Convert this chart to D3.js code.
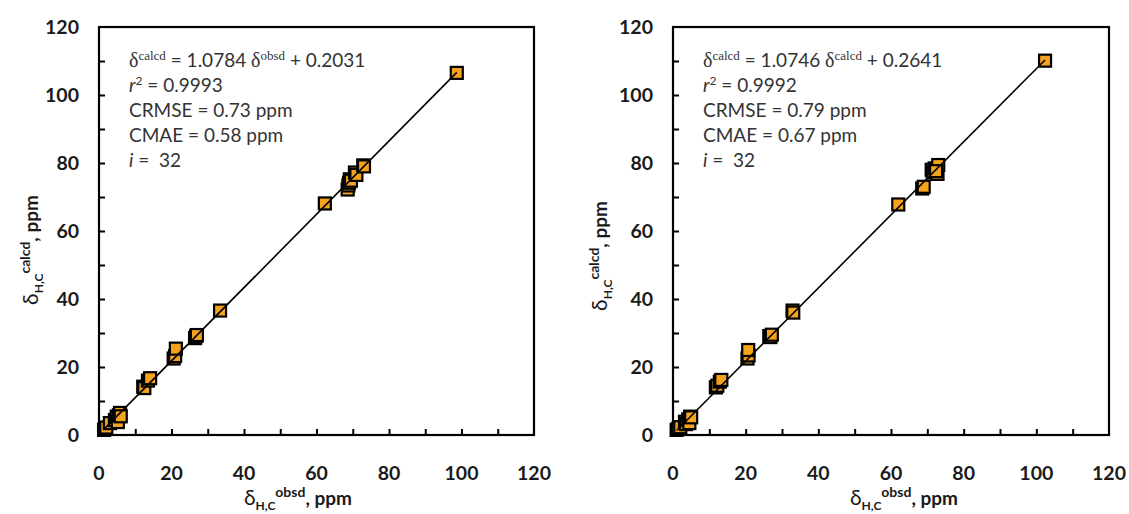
<!DOCTYPE html>
<html>
<head>
<meta charset="utf-8">
<script src="https://cdn.jsdelivr.net/npm/d3@7"></script>
<style>
  body { margin: 0; background: #fff; }
  svg { display: block; }
</style>
</head>
<body>
<div id="graf"></div>
<script>
// datos
leftObs  = [1.4, 1.6, 2.0, 3.0, 4.4, 4.9, 5.2, 5.5, 5.8, 6.0, 12.2, 12.5, 13.5, 14.1, 20.6, 21.0,
            21.2, 26.5, 26.8, 27.0, 33.4, 62.3, 68.6, 68.8, 69.0, 69.2, 69.5, 70.6, 71.0, 72.9, 73.1, 98.7]
leftCalc = [1.5, 1.8, 2.2, 3.5, 4.4, 5.4, 3.8, 5.8, 6.5, 5.5, 14.2, 13.8, 16.0, 16.7, 22.5, 23.2,
            25.4, 28.5, 29.1, 29.4, 36.6, 68.1, 72.2, 73.4, 74.2, 75.2, 74.8, 77.2, 76.5, 79.3, 79.0, 106.5]

rightObs  = [1.0, 1.4, 2.0, 3.3, 3.6, 4.2, 4.5, 4.7, 5.0, 11.8, 12.2, 12.9, 13.3, 20.5, 20.8, 20.7,
             26.5, 26.8, 27.2, 32.9, 33.1, 62.0, 68.6, 69.0, 71.2, 71.5, 72.0, 72.6, 72.8, 73.0, 72.4, 102.4]
rightCalc = [1.5, 1.8, 2.3, 3.9, 3.2, 4.6, 3.5, 5.4, 5.2, 14.0, 14.5, 15.7, 16.2, 22.5, 23.4, 25.0,
             29.1, 28.8, 29.5, 36.6, 36.0, 67.8, 72.5, 73.0, 78.0, 77.2, 78.4, 78.0, 76.8, 79.4, 77.6, 110.1]

leftFit  = [1.0784, 0.2031]   // pendiente, ordenada
rightFit = [1.0746, 0.2641]

axisDomain = [0, 120]
tickLabels = [0, 20, 40, 60, 80, 100, 120]
tickMarks  = [10, 20, 30, 40, 50, 60, 70, 80, 90, 100, 110]

leftStats  = ['0.9993', '0.73', '0.58', '32']
rightStats = ['0.9992', '0.79', '0.67', '32']

ancho_total = 1129
alto_total = 514
sans = 'Lato, "Open Sans", sans-serif'
serif = '"Liberation Serif", "DejaVu Serif", serif'
naranja = '#f5a21c'

svg = d3.select('#graf').append('svg')
        .attr('width', ancho_total)
        .attr('height', alto_total)

function panel(cfg) {
    x = d3.scaleLinear().domain(axisDomain).range([cfg.left, cfg.right])
    y = d3.scaleLinear().domain(axisDomain).range([cfg.bottom, cfg.top])
    g = svg.append('g')

    // marco
    g.append('rect')
        .attr('x', cfg.left).attr('y', cfg.top)
        .attr('width', cfg.right - cfg.left).attr('height', cfg.bottom - cfg.top)
        .attr('fill', 'none').attr('stroke', '#000').attr('stroke-width', 2.2)

    // ticks hacia dentro
    ejeX = d3.axisBottom(x).tickValues(tickMarks).tickSize(-6).tickFormat('')
    ejeY = d3.axisLeft(y).tickValues(tickMarks).tickSize(-6).tickFormat('')
    gx = g.append('g').attr('transform', `translate(0, ${cfg.bottom})`).call(ejeX)
    gy = g.append('g').attr('transform', `translate(${cfg.left}, 0)`).call(ejeY)
    ;[gx, gy].forEach(a => {
        a.select('.domain').remove()
        a.selectAll('line').attr('stroke', '#000').attr('stroke-width', 2)
    })

    // etiquetas
    g.selectAll('.xl').data(tickLabels).enter().append('text')
        .attr('x', d => x(d)).attr('y', cfg.bottom + 45)
        .attr('text-anchor', 'middle')
        .attr('font-family', sans).attr('font-weight', 'bold').attr('font-size', 19.5)
        .attr('fill', '#1a1a1a')
        .text(d => d)
    g.selectAll('.yl').data(tickLabels).enter().append('text')
        .attr('x', cfg.left - 20).attr('y', d => y(d) + 7)
        .attr('text-anchor', 'end')
        .attr('font-family', sans).attr('font-weight', 'bold').attr('font-size', 19.5)
        .attr('fill', '#1a1a1a')
        .text(d => d)

    // titulo eje x
    tx = g.append('text')
        .attr('x', cfg.xTitleX).attr('y', 505)
        .attr('text-anchor', 'middle')
        .attr('font-family', sans).attr('font-weight', 'bold').attr('font-size', 19)
        .attr('fill', '#1a1a1a')
    tx.append('tspan').attr('font-weight', 'normal').attr('font-size', 21).text('δ')
    tx.append('tspan').attr('font-size', 12).attr('dy', 5).text('H,C')
    tx.append('tspan').attr('font-size', 14).attr('dy', -13).text('obsd')
    tx.append('tspan').attr('dy', 8).text(', ppm')

    // titulo eje y
    ty = g.append('text')
        .attr('transform', `translate(${cfg.yTitleX}, ${cfg.yTitleY}) rotate(-90)`)
        .attr('text-anchor', 'middle')
        .attr('font-family', sans).attr('font-weight', 'bold').attr('font-size', 19)
        .attr('fill', '#1a1a1a')
    ty.append('tspan').attr('font-weight', 'normal').attr('font-size', 21).text('δ')
    ty.append('tspan').attr('font-size', 12).attr('dy', 5).text('H,C')
    ty.append('tspan').attr('font-size', 14).attr('dy', -13).text('calcd')
    ty.append('tspan').attr('dy', 8).text(', ppm')

    // puntos
    pts = cfg.obs.map((d, i) => [d, cfg.calc[i]])
    s = 12
    g.selectAll('.pt').data(pts).enter().append('rect')
        .attr('x', d => x(d[0]) - s / 2)
        .attr('y', d => y(d[1]) - s / 2)
        .attr('width', s).attr('height', s)
        .attr('fill', naranja).attr('stroke', '#000').attr('stroke-width', 2.2)

    // recta de ajuste
    xmin = d3.min(cfg.obs), xmax = d3.max(cfg.obs)
    g.append('line')
        .attr('x1', x(xmin)).attr('y1', y(cfg.fit[0] * xmin + cfg.fit[1]))
        .attr('x2', x(xmax)).attr('y2', y(cfg.fit[0] * xmax + cfg.fit[1]))
        .attr('stroke', '#000').attr('stroke-width', 1.6)

    // anotacion
    ann = g.append('g').attr('font-family', sans).attr('font-size', 19).attr('fill', '#333')
    ax0 = cfg.left + 30
    l1 = ann.append('text').attr('x', ax0).attr('y', 67)
    l1.append('tspan').attr('font-family', serif).attr('font-size', 20).text('δ')
    l1.append('tspan').attr('font-family', serif).attr('font-size', 13).attr('dy', -7).text('calcd')
    l1.append('tspan').attr('dy', 7).text(cfg.eqMid)
    l1.append('tspan').attr('font-family', serif).attr('font-size', 20).text('δ')
    l1.append('tspan').attr('font-family', serif).attr('font-size', 13).attr('dy', -7).text(cfg.sup2)
    l1.append('tspan').attr('dy', 7).text(' + ' + cfg.fit[1].toFixed(4))

    l2 = ann.append('text').attr('x', ax0).attr('y', 92)
    l2.append('tspan').attr('font-style', 'italic').text('r')
    l2.append('tspan').attr('font-size', 12).attr('dy', -7).text('2')
    l2.append('tspan').attr('dy', 7).text(' = ' + cfg.stats[0])

    ann.append('text').attr('x', ax0).attr('y', 117).text('CRMSE = ' + cfg.stats[1] + ' ppm')
    ann.append('text').attr('x', ax0).attr('y', 142).text('CMAE = ' + cfg.stats[2] + ' ppm')
    l5 = ann.append('text').attr('x', ax0).attr('y', 167)
    l5.append('tspan').attr('font-style', 'italic').text('i')
    l5.append('tspan').attr('xml:space', 'preserve').text(' =  ' + cfg.stats[3])
}

panel({left: 99, right: 534, top: 27, bottom: 435,
       obs: leftObs, calc: leftCalc, fit: leftFit, stats: leftStats,
       eqMid: ' = ' + leftFit[0].toFixed(4) + ' ', sup2: 'obsd',
       xTitleX: 298, yTitleX: 38, yTitleY: 250})

panel({left: 673, right: 1109, top: 27, bottom: 435,
       obs: rightObs, calc: rightCalc, fit: rightFit, stats: rightStats,
       eqMid: '  = ' + rightFit[0].toFixed(4) + ' ', sup2: 'calcd',
       xTitleX: 904, yTitleX: 607, yTitleY: 256})
</script>
</body>
</html>
